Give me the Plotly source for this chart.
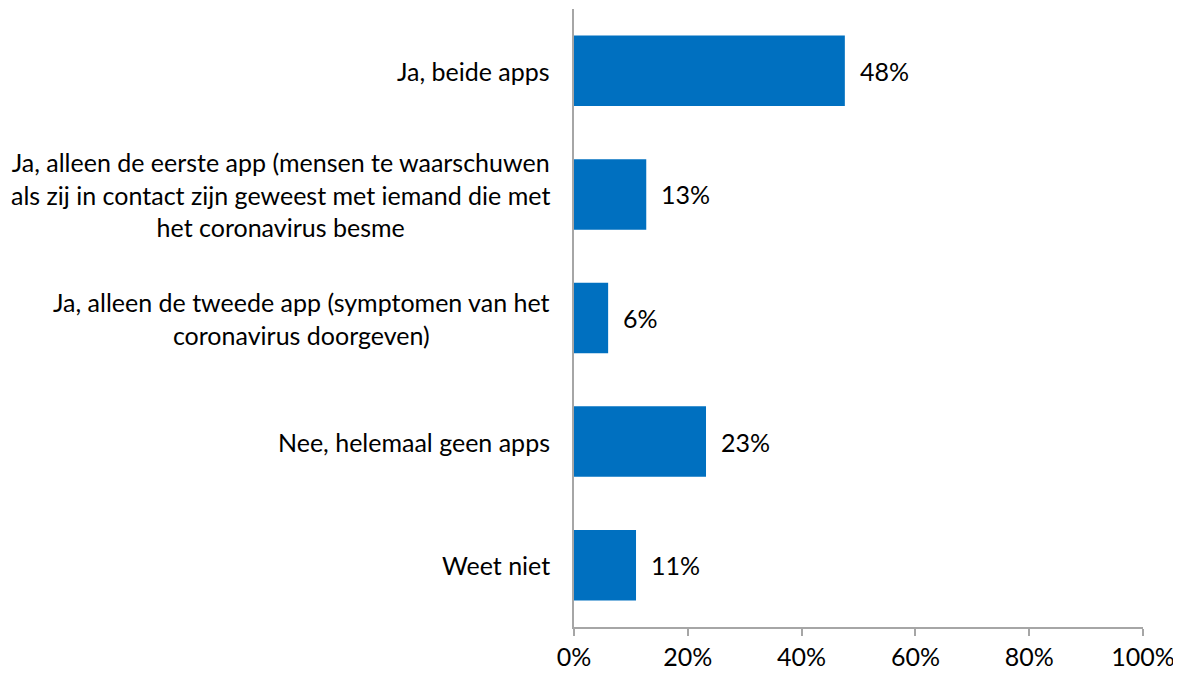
import plotly.graph_objects as go

categories = [
    "Ja, beide apps",
    "Ja, alleen de eerste app (mensen te waarschuwen<br>als zij in contact zijn geweest met iemand die met<br>het coronavirus besme",
    "Ja, alleen de tweede app (symptomen van het<br>coronavirus doorgeven)",
    "Nee, helemaal geen apps",
    "Weet niet",
]
values = [47.6, 12.7, 6.0, 23.2, 10.9]
value_labels = ["48%", "13%", "6%", "23%", "11%"]
x_ticks = [0, 20, 40, 60, 80, 100]
x_tick_labels = ["0%", "20%", "40%", "60%", "80%", "100%"]

FONT = "Lato"
FS = 25
AXIS_COLOR = "#A6A6A6"

fig = go.Figure(
    go.Bar(
        x=values,
        y=categories,
        orientation="h",
        marker=dict(color="#0070C0", line=dict(width=0)),
        hoverinfo="skip",
    )
)

for cat, val, lab in zip(categories, values, value_labels):
    fig.add_annotation(
        x=val, y=cat, xref="x", yref="y", text=lab, showarrow=False,
        xanchor="left", xshift=13, font=dict(family=FONT, size=FS, color="#000000"),
    )
    fig.add_annotation(
        x=0, y=cat, xref="paper", yref="y", text=cat, showarrow=False,
        xanchor="right", align="center", xshift=-22,
        font=dict(family=FONT, size=FS, color="#000000"),
    )

# page body has an 8px default margin; compensate so the chart lands where the reference does
fig.update_layout(
    width=1173, height=665,
    margin=dict(l=566, r=38, t=1, b=46),
    paper_bgcolor="white", plot_bgcolor="white",
    bargap=0.43,
    showlegend=False,
    font=dict(family=FONT, size=FS, color="#000000"),
)
fig.update_xaxes(
    range=[0, 100], tickvals=x_ticks, ticktext=x_tick_labels,
    showline=True, linecolor=AXIS_COLOR, linewidth=2,
    ticks="outside", ticklen=7, tickwidth=2, tickcolor=AXIS_COLOR,
    showgrid=False, zeroline=False, fixedrange=True,
    tickfont=dict(family=FONT, size=FS, color="#000000"),
)
fig.update_yaxes(
    autorange="reversed", showticklabels=False,
    showline=True, linecolor=AXIS_COLOR, linewidth=2,
    ticks="", showgrid=False, zeroline=False, fixedrange=True,
)

fig.write_html("out.html")
